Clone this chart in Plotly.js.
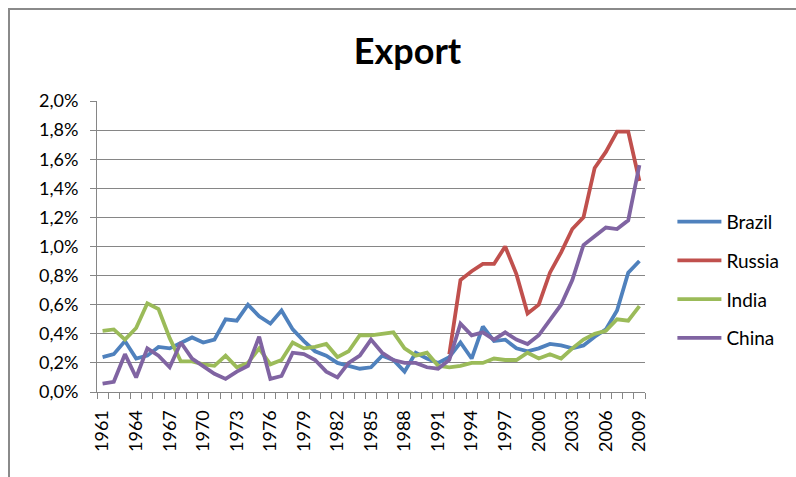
<!DOCTYPE html>
<html>
<head>
<meta charset="utf-8">
<script src="https://cdn.plot.ly/plotly-3.0.1.min.js"></script>
<style>
  html, body { margin: 0; padding: 0; background: #ffffff; }
  #wrap { position: relative; width: 796px; height: 477px; overflow: hidden; }
  #chart { position: absolute; left: 0; top: 0; width: 796px; height: 477px; }
  #frame { position: absolute; left: 8px; top: 8px; width: 900px; height: 600px;
           border-left: 2px solid #8a8a8a; border-top: 2px solid #8a8a8a; pointer-events: none; }
</style>
</head>
<body>
<div id="wrap">
  <div id="chart"></div>
  <div id="frame"></div>
</div>
<script>
const years = [];
for (let y = 1961; y <= 2009; y++) years.push(y);

const brazil = [0.24,0.26,0.35,0.23,0.25,0.31,0.30,0.34,0.375,0.34,0.36,0.50,
                0.49,0.60,0.52,0.47,0.56,0.43,0.35,0.28,0.25,0.20,0.18,0.16,
                0.17,0.25,0.22,0.14,0.27,0.23,0.20,0.24,0.34,0.23,0.45,0.35,
                0.36,0.30,0.28,0.30,0.33,0.32,0.30,0.32,0.38,0.43,0.56,0.82,0.90];

const russia = [null,null,null,null,null,null,null,null,null,null,null,null,
                null,null,null,null,null,null,null,null,null,null,null,null,
                null,null,null,null,null,null,null,0.26,0.77,0.83,0.88,0.88,
                1.00,0.81,0.54,0.60,0.82,0.96,1.12,1.20,1.54,1.65,1.79,1.79,1.45];

const india = [0.42,0.43,0.36,0.44,0.61,0.57,0.37,0.21,0.21,0.19,0.18,0.25,
               0.17,0.20,0.30,0.19,0.22,0.34,0.30,0.31,0.33,0.24,0.28,0.39,
               0.39,0.40,0.41,0.30,0.25,0.27,0.18,0.17,0.18,0.20,0.20,0.23,
               0.22,0.22,0.27,0.23,0.26,0.23,0.30,0.36,0.40,0.42,0.50,0.49,0.59];

const china = [0.057,0.07,0.26,0.10,0.30,0.25,0.17,0.34,0.23,0.18,0.125,0.09,
               0.14,0.18,0.38,0.09,0.11,0.27,0.26,0.22,0.14,0.10,0.20,0.25,
               0.36,0.27,0.22,0.20,0.20,0.17,0.16,0.22,0.47,0.39,0.41,0.36,
               0.41,0.36,0.33,0.39,0.49,0.60,0.77,1.01,1.07,1.13,1.12,1.18,1.56];

const seriesNames = ['Brazil','Russia','India','China'];
const seriesColors = ['#4F81BD','#C0504D','#9BBB59','#8064A2'];
const seriesData = [brazil, russia, india, china];

const xTickVals = [];
for (let y = 1961; y <= 2009; y += 3) xTickVals.push(y);
const xTickText = xTickVals.map(String);

const traces = seriesData.map((d, i) => ({
  x: years, y: d, type: 'scatter', mode: 'lines', name: seriesNames[i],
  legendgroup: seriesNames[i],
  line: { color: seriesColors[i], width: 3.8, shape: 'linear' },
  connectgaps: false, hoverinfo: 'skip'
}));

const FONT = 'Lato, "Open Sans", "Liberation Sans", sans-serif';

const layout = {
  width: 796, height: 477,
  margin: { l: 97, r: 151, t: 101, b: 85, pad: 0 },
  paper_bgcolor: '#ffffff', plot_bgcolor: '#ffffff',
  separators: ',.',
  font: { family: FONT, size: 18, color: '#000000' },
  title: {
    text: '<b>Export</b>',
    font: { family: FONT, size: 36, color: '#000000' },
    x: 0.512, xref: 'container', xanchor: 'center',
    y: 0.893, yref: 'container', yanchor: 'middle'
  },
  showlegend: true,
  legend: {
    x: 1.05, xanchor: 'left', y: 0.65, yanchor: 'top',
    font: { family: FONT, size: 19, color: '#000000' },
    traceorder: 'grouped', tracegroupgap: 11,
    itemwidth: 44,
    bgcolor: 'rgba(0,0,0,0)', borderwidth: 0
  },
  xaxis: {
    type: 'linear', range: [1960.5, 2009.5], fixedrange: true,
    tickmode: 'array', tickvals: xTickVals, ticktext: xTickText,
    tickangle: -90, ticks: '', ticklabelstandoff: 10,
    tickfont: { family: FONT, size: 18, color: '#000000' },
    showgrid: false, zeroline: false,
    showline: true, linecolor: '#868686', linewidth: 1,
    minor: { tickmode: 'linear', tick0: 1960.5, dtick: 1, ticks: 'outside',
             ticklen: 6, tickcolor: '#868686', tickwidth: 1, showgrid: false }
  },
  yaxis: {
    range: [0, 2.0], fixedrange: true,
    tickmode: 'linear', tick0: 0, dtick: 0.2,
    tickformat: '.1f', ticksuffix: '%',
    ticks: 'outside', ticklen: 6, tickcolor: '#868686', tickwidth: 1,
    ticklabelstandoff: 8,
    tickfont: { family: FONT, size: 18, color: '#000000' },
    showgrid: true, gridcolor: '#868686', gridwidth: 1,
    zeroline: false,
    showline: true, linecolor: '#868686', linewidth: 1
  }
};

Plotly.newPlot('chart', traces, layout, { staticPlot: true, displayModeBar: false });
</script>
</body>
</html>
